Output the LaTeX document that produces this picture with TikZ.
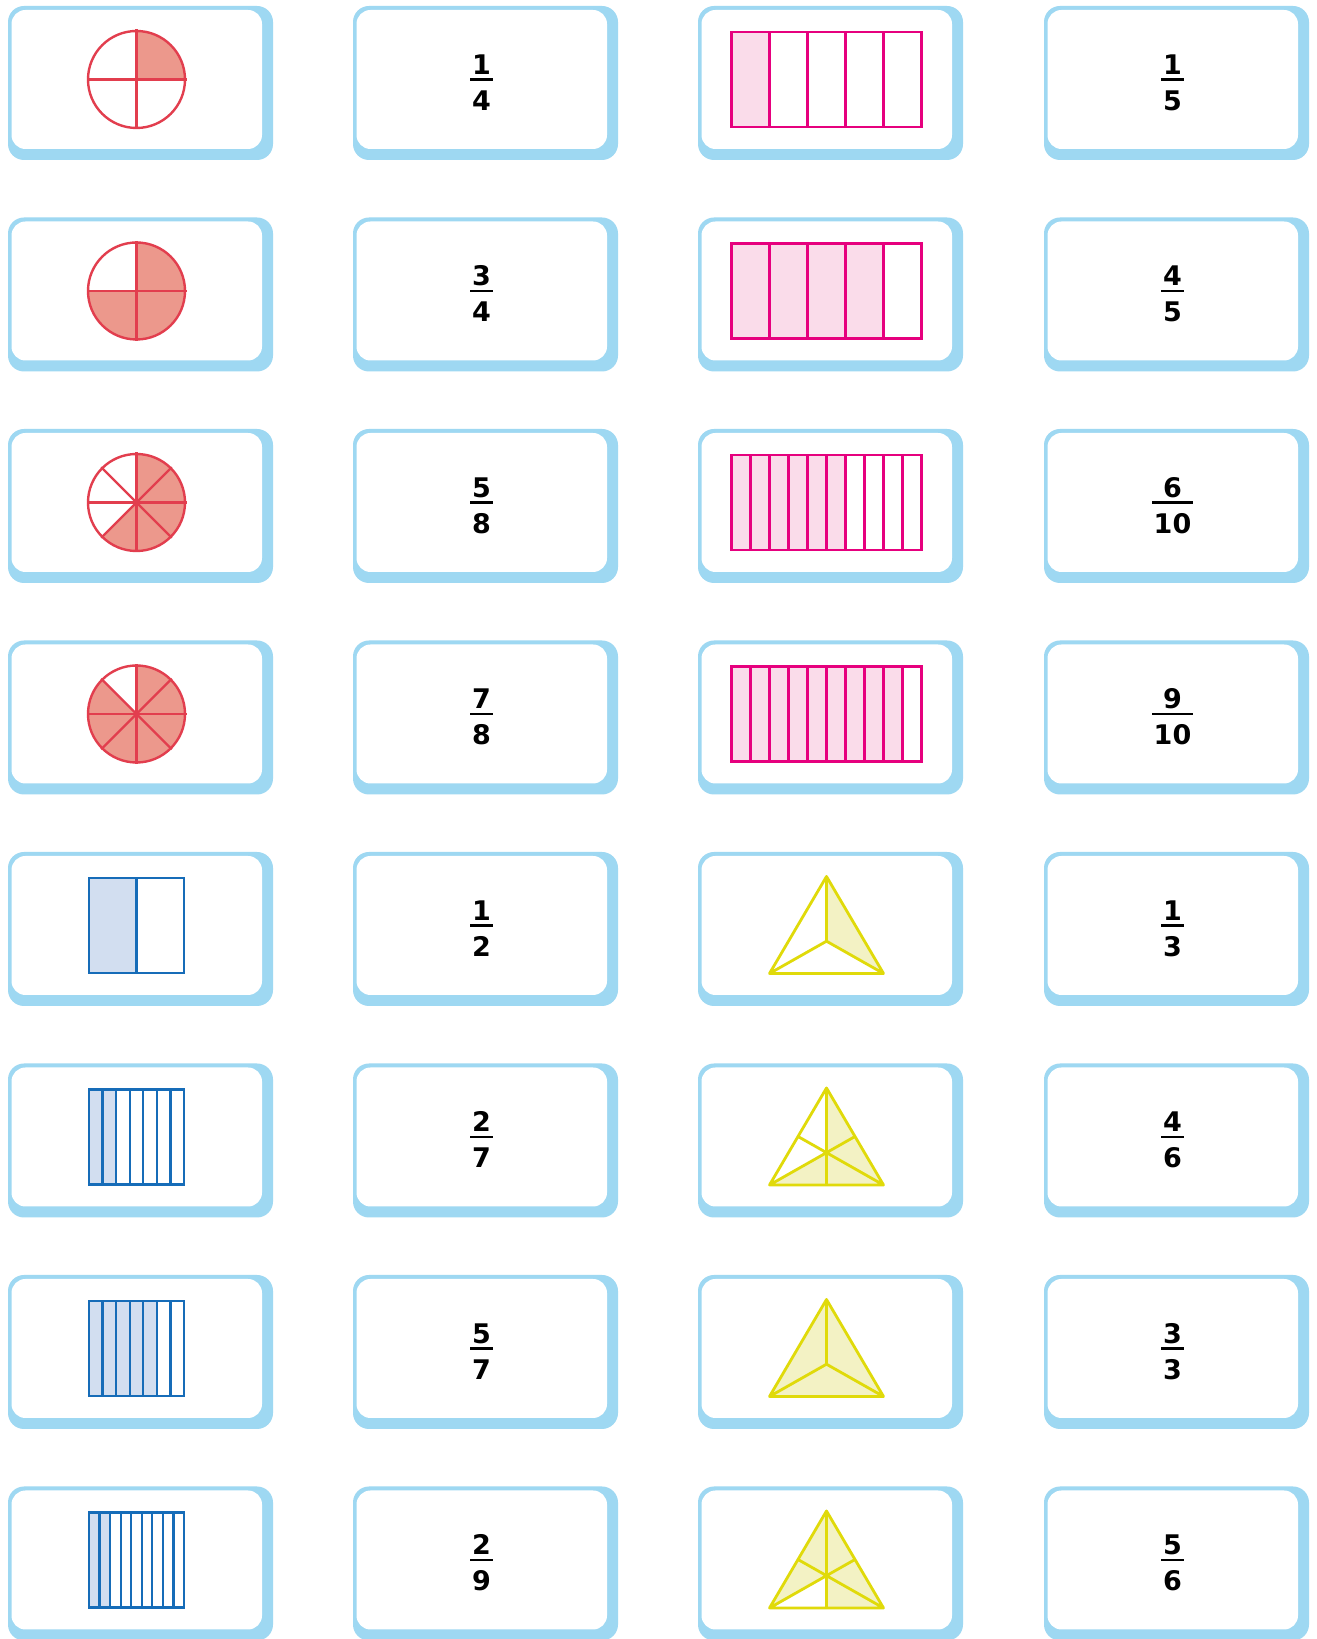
\documentclass[tikz,border=0pt]{standalone}
\usepackage{fontspec}
\setmainfont{DejaVu Sans}
\usetikzlibrary{calc}
\definecolor{cardblue}{RGB}{158,216,242}
\definecolor{piefillc}{RGB}{236,152,140}
\definecolor{piestrokec}{RGB}{226,62,78}
\definecolor{pinkfillc}{RGB}{250,220,234}
\definecolor{pinkstrokec}{RGB}{230,0,126}
\definecolor{bluefillc}{RGB}{210,222,240}
\definecolor{bluestrokec}{RGB}{22,108,184}
\definecolor{yelfillc}{RGB}{243,242,196}
\definecolor{yelstrokec}{RGB}{224,218,10}
\tikzset{
  cardframe/.style={fill=cardblue, rounded corners=16pt},
  cardface/.style={fill=white, rounded corners=14pt},
  piestroke/.style={draw=piestrokec, line width=2.4pt},
  piefill/.style={fill=piefillc},
  yelstroke/.style={draw=yelstrokec, line width=2.8pt, line join=round},
  yelfill/.style={fill=yelfillc},
  fracnum/.style={anchor=base, inner sep=0pt, inner xsep=1.5pt, font=\fontsize{27}{30}\selectfont\bfseries},
  fracbar/.style={line width=2.8pt}
}
\newcommand\card[2]{%
  \fill[cardframe] (#1,#2) rectangle ++(265,-154);
  \fill[cardface] (#1+3.5,#2-4) rectangle (#1+254,#2-143);}
\newcommand\piesector[4]{\fill[piefill] (#1,#2) -- ++(#3:48.5) arc[start angle=#3,end angle=#4,radius=48.5] -- cycle;}
\newcommand\piedraw[3]{%
  \draw[piestroke] (#1,#2) circle[radius=48.5];
  \foreach \a in {#3} \draw[piestroke] ($(#1,#2)+(\a:50)$) -- ($(#1,#2)+(\a+180:50)$);}
\newcommand\bars[9]{%
  \pgfmathsetmacro\bw{#3/#5}%
  \pgfmathtruncatemacro\nm{#5-1}%
  \fill[#7] (#1-#3/2,#2-#4/2) rectangle ++(\bw*#6,#4);
  \foreach \i in {1,...,\nm} \draw[#8,line width=#9] (#1-#3/2+\bw*\i,#2-#4/2) -- ++(0,#4);
  \draw[#8,line width=#9] (#1-#3/2,#2-#4/2) rectangle ++(#3,#4);}
\newcommand\frc[5]{%
  \node[fracnum] (#1n) at (#2,#3+5) {#4};
  \node[fracnum] (#1d) at (#2,#3-31) {#5};
  \draw[fracbar] (#1d.west |- 0,#3) -- (#1d.east |- 0,#3);}
\newcommand\tripts[2]{%
  \coordinate (A) at (#1,#2+49);
  \coordinate (B) at (#1-57,#2-48);
  \coordinate (C) at (#1+57,#2-48);
  \coordinate (G) at (#1,#2-48+32.3);
  \coordinate (Mab) at ($(A)!0.5!(B)$);
  \coordinate (Mbc) at ($(B)!0.5!(C)$);
  \coordinate (Mca) at ($(C)!0.5!(A)$);}
\begin{document}
\begin{tikzpicture}[x=1pt,y=1pt]
\useasboundingbox (0,0) rectangle (1317,1639);
\fill[white] (0,0) rectangle (1317,1639);
% cards
\foreach \r in {0,...,7} {
  \foreach \xx in {8,353,698,1044} {
    \pgfmathsetmacro\ct{1633-211.5*\r}
    \card{\xx}{\ct}
  }
}
% column 1: pies
\piesector{136.5}{1559.5}{0}{90}
\piedraw{136.5}{1559.5}{0,90}
\piesector{136.5}{1348}{180}{450}
\piedraw{136.5}{1348}{0,90}
\piesector{136.5}{1136.5}{225}{450}
\piedraw{136.5}{1136.5}{0,45,90,135}
\piesector{136.5}{925}{135}{450}
\piedraw{136.5}{925}{0,45,90,135}
% column 1: blue bars
\bars{136.5}{713.5}{95}{95}{2}{1}{bluefillc}{bluestrokec}{2.3pt}
\bars{136.5}{502}{95}{95}{7}{2}{bluefillc}{bluestrokec}{2.3pt}
\bars{136.5}{290.5}{95}{95}{7}{5}{bluefillc}{bluestrokec}{2.3pt}
\bars{136.5}{79}{95}{95}{9}{2}{bluefillc}{bluestrokec}{2.3pt}
% column 3: pink bars
\bars{826.5}{1559.5}{190}{95}{5}{1}{pinkfillc}{pinkstrokec}{2.8pt}
\bars{826.5}{1348}{190}{95}{5}{4}{pinkfillc}{pinkstrokec}{2.8pt}
\bars{826.5}{1136.5}{190}{95}{10}{6}{pinkfillc}{pinkstrokec}{2.8pt}
\bars{826.5}{925}{190}{95}{10}{9}{pinkfillc}{pinkstrokec}{2.8pt}
% column 3: triangles
\begin{scope}
\tripts{826.5}{713.5}
\fill[yelfill] (A) -- (G) -- (C) -- cycle;
\draw[yelstroke] (A) -- (B) -- (C) -- cycle (A) -- (G) (B) -- (G) (C) -- (G);
\end{scope}
\begin{scope}
\tripts{826.5}{502}
\fill[yelfill] (A) -- (G) -- (B) -- (C) -- cycle;
\draw[yelstroke] (A) -- (B) -- (C) -- cycle (A) -- (Mbc) (B) -- (Mca) (C) -- (Mab);
\end{scope}
\begin{scope}
\tripts{826.5}{290.5}
\fill[yelfill] (A) -- (B) -- (C) -- cycle;
\draw[yelstroke] (A) -- (B) -- (C) -- cycle (A) -- (G) (B) -- (G) (C) -- (G);
\end{scope}
\begin{scope}
\tripts{826.5}{79}
\fill[yelfill] (A) -- (B) -- (G) -- (Mbc) -- (C) -- cycle;
\draw[yelstroke] (A) -- (B) -- (C) -- cycle (A) -- (Mbc) (B) -- (Mca) (C) -- (Mab);
\end{scope}
% column 2 fractions
\frc{b1}{481.5}{1559.5}{1}{4}
\frc{b2}{481.5}{1348}{3}{4}
\frc{b3}{481.5}{1136.5}{5}{8}
\frc{b4}{481.5}{925}{7}{8}
\frc{b5}{481.5}{713.5}{1}{2}
\frc{b6}{481.5}{502}{2}{7}
\frc{b7}{481.5}{290.5}{5}{7}
\frc{b8}{481.5}{79}{2}{9}
% column 4 fractions
\frc{d1}{1172.5}{1559.5}{1}{5}
\frc{d2}{1172.5}{1348}{4}{5}
\frc{d3}{1172.5}{1136.5}{6}{10}
\frc{d4}{1172.5}{925}{9}{10}
\frc{d5}{1172.5}{713.5}{1}{3}
\frc{d6}{1172.5}{502}{4}{6}
\frc{d7}{1172.5}{290.5}{3}{3}
\frc{d8}{1172.5}{79}{5}{6}
\end{tikzpicture}
\end{document}
